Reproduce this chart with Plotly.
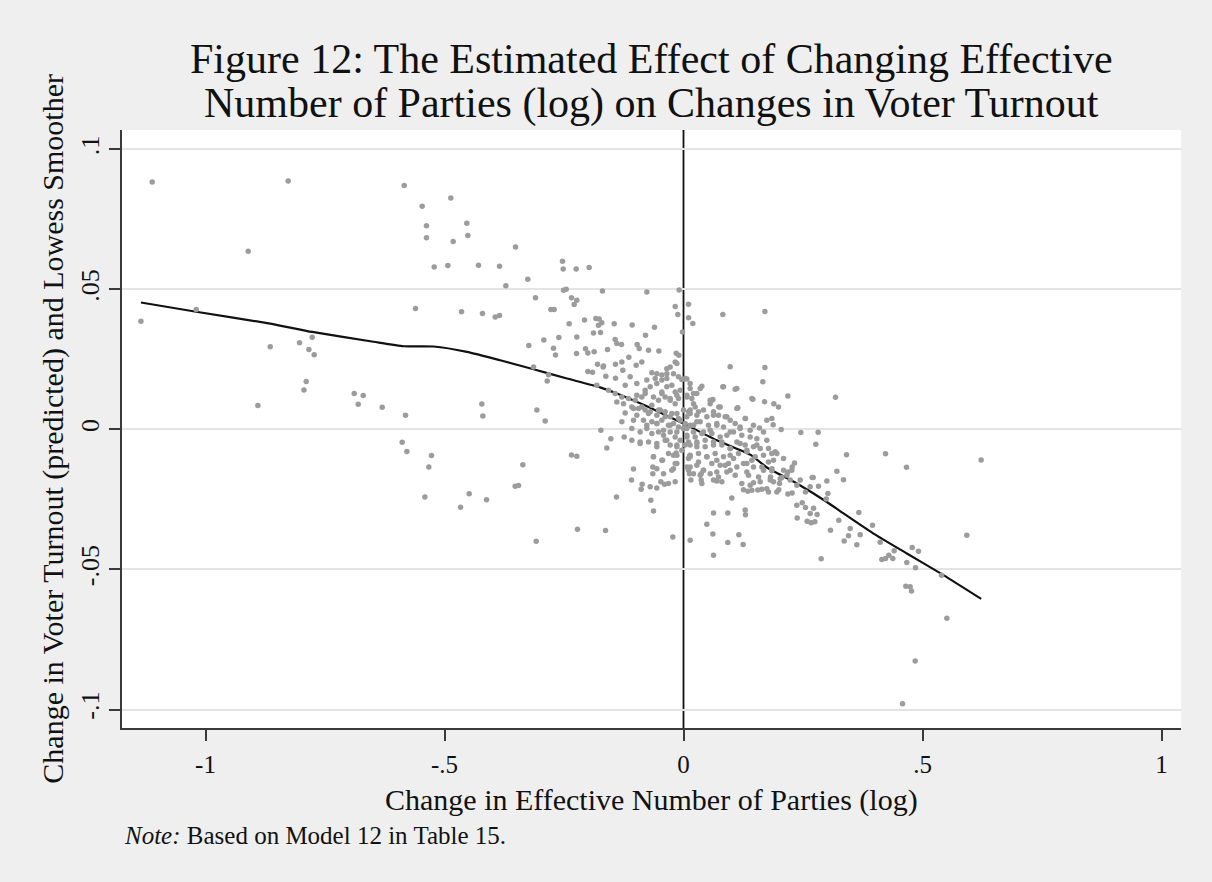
import plotly.graph_objects as go

# Scatter of predicted turnout change vs change in effective number of parties (log),
# grouped by region of the plane.
pts_far_left = [
    (-1.1115, 0.0883), (-0.827, 0.0887), (-0.5843, 0.0871), (-0.9107, 0.0636), (-1.1351, 0.0386),
    (-1.0194, 0.0428), (-0.5607, 0.0432), (-0.8646, 0.0295), (-0.8033, 0.0309), (-0.7768, 0.0329),
    (-0.7837, 0.0285), (-0.7726, 0.0267), (-0.7893, 0.0171), (-0.7941, 0.0141), (-0.8904, 0.0085),
    (-0.6889, 0.0128), (-0.6701, 0.0121), (-0.6805, 0.0090), (-0.6303, 0.0079), (-0.5816, 0.0051),
    (-0.5885, -0.0046), (-0.5787, -0.0079),
]

pts_mid_left = [
    (-0.5467, 0.0797), (-0.4868, 0.0826), (-0.5377, 0.0727), (-0.4533, 0.0736), (-0.5377, 0.0684),
    (-0.4512, 0.0692), (-0.4819, 0.0671), (-0.3515, 0.0651), (-0.5216, 0.0580), (-0.4930, 0.0585),
    (-0.4289, 0.0586), (-0.3849, 0.0583), (-0.2531, 0.0600), (-0.2517, 0.0573), (-0.2245, 0.0573),
    (-0.1974, 0.0578), (-0.3257, 0.0536), (-0.3717, 0.0513), (-0.2510, 0.0497), (-0.2455, 0.0500),
    (-0.1695, 0.0494), (-0.3096, 0.0470), (-0.2343, 0.0470), (-0.2232, 0.0461), (-0.2287, 0.0446),
    (-0.4644, 0.0420), (-0.4205, 0.0414), (-0.3940, 0.0401), (-0.3849, 0.0407), (-0.2775, 0.0428),
    (-0.2706, 0.0428), (-0.2392, 0.0377), (-0.2071, 0.0391), (-0.1834, 0.0396), (-0.1764, 0.0394),
    (-0.1709, 0.0381), (-0.1778, 0.0372), (-0.1736, 0.0346), (-0.1883, 0.0344), (-0.1450, 0.0377),
    (-0.1430, 0.0321), (-0.1395, 0.0307), (-0.2608, 0.0328), (-0.2232, 0.0330), (-0.2922, 0.0319),
    (-0.3236, 0.0300), (-0.2720, 0.0290), (-0.2678, 0.0266), (-0.2238, 0.0271), (-0.2050, 0.0288),
    (-0.2001, 0.0273), (-0.1869, 0.0277), (-0.1590, 0.0285), (-0.1799, 0.0233), (-0.1674, 0.0226),
    (-0.2001, 0.0207), (-0.1904, 0.0204), (-0.1625, 0.0190), (-0.1423, 0.0233), (-0.1423, 0.0183),
    (-0.3138, 0.0223), (-0.2824, 0.0195), (-0.2852, 0.0173), (-0.4219, 0.0091), (-0.4198, 0.0048),
    (-0.3068, 0.0069), (-0.2894, 0.0030), (-0.1729, -0.0003), (-0.1520, -0.0033), (-0.1604, -0.0066),
    (-0.5272, -0.0093), (-0.5328, -0.0134), (-0.3361, -0.0126), (-0.2343, -0.0091), (-0.2232, -0.0096),
    (-0.3522, -0.0203), (-0.3452, -0.0200), (-0.5411, -0.0241), (-0.4484, -0.0230), (-0.4665, -0.0278),
    (-0.4121, -0.0251), (-0.1402, -0.0241), (-0.2218, -0.0356), (-0.1632, -0.0361), (-0.3082, -0.0399),
]

pts_upper_center = [
    (-0.0767, 0.0491), (-0.0091, 0.0498), (-0.0174, 0.0439), (0.0105, 0.0447), (-0.0119, 0.0410),
    (0.0105, 0.0399), (0.0195, 0.0378), (0.0823, 0.0410), (0.1702, 0.0421), (-0.1074, 0.0373),
    (-0.0607, 0.0365), (-0.0021, 0.0348), (-0.0795, 0.0336), (-0.1297, 0.0303), (-0.0969, 0.0303),
    (-0.0927, 0.0289), (-0.0732, 0.0283), (-0.0516, 0.0280), (-0.0153, 0.0272), (-0.0098, 0.0265),
    (-0.1144, 0.0258), (-0.1290, 0.0241), (-0.0872, 0.0241), (-0.0990, 0.0229), (-0.1269, 0.0211),
    (-0.1681, 0.0223), (0.0976, 0.0224), (0.1702, 0.0221), (0.1660, 0.0170), (-0.0349, 0.0217),
    (-0.0279, 0.0223), (-0.0174, 0.0241), (-0.0105, 0.0188), (-0.0035, 0.0178), (0.0070, 0.0180),
    (-0.0662, 0.0202), (-0.0558, 0.0199), (-0.0453, 0.0194), (0.0823, 0.0152), (0.1081, 0.0143),
    (0.1450, 0.0108), (0.1695, 0.0099), (0.1890, 0.0092), (0.1987, 0.0080), (0.1848, 0.0039),
    (0.1876, 0.0017), (0.0614, 0.0107), (0.0739, 0.0080), (0.1137, 0.0077), (0.1297, 0.0039),
    (0.1590, 0.0005),
]

pts_lower_center = [
    (-0.1241, -0.0027), (-0.1081, -0.0039), (-0.1046, -0.0141), (-0.1088, -0.0181), (-0.0865, -0.0196),
    (-0.0886, -0.0214), (-0.0628, -0.0098), (-0.0439, -0.0110), (-0.0139, -0.0122), (-0.0153, -0.0084),
    (-0.0642, -0.0134), (-0.0558, -0.0140), (-0.0642, -0.0158), (-0.0474, -0.0187), (-0.0397, -0.0196),
    (-0.0558, -0.0209), (-0.0683, -0.0253), (-0.0628, -0.0291), (-0.0223, -0.0384), (0.0139, -0.0396),
    (0.0628, -0.0298), (0.0488, -0.0339), (0.0614, -0.0373), (0.0628, -0.0449), (0.0126, -0.0158),
    (0.0153, -0.0181), (0.0370, -0.0158), (0.0370, -0.0181), (0.0697, -0.0184), (0.0126, -0.0096),
]

pts_right_tail = [
    (0.3180, 0.0115), (0.2183, 0.0119), (0.2455, -0.0011), (0.2817, -0.0010), (0.2768, -0.0053),
    (0.3410, -0.0090), (0.4226, -0.0087), (0.4665, -0.0135), (0.6227, -0.0109), (0.3208, -0.0149),
    (0.3347, -0.0180), (0.2999, -0.0184), (0.2692, -0.0172), (0.2824, -0.0203), (0.3020, -0.0229),
    (0.2985, -0.0248), (0.3668, -0.0297), (0.3954, -0.0342), (0.3250, -0.0324), (0.3075, -0.0360),
    (0.3487, -0.0354), (0.3452, -0.0380), (0.3696, -0.0376), (0.3361, -0.0398), (0.3626, -0.0412),
    (0.4114, -0.0403), (0.2880, -0.0462), (0.4784, -0.0422), (0.4916, -0.0435), (0.4149, -0.0464),
    (0.4226, -0.0461), (0.4296, -0.0449), (0.4379, -0.0461), (0.4407, -0.0433), (0.4672, -0.0475),
    (0.4854, -0.0494), (0.5398, -0.0521), (0.5927, -0.0378), (0.4651, -0.0560), (0.4742, -0.0562),
    (0.4770, -0.0577), (0.5509, -0.0674), (0.4847, -0.0827), (0.4582, -0.0979), (0.2371, -0.0271),
    (0.2483, -0.0262), (0.2552, -0.0279), (0.2650, -0.0300), (0.2720, -0.0281), (0.2796, -0.0304),
    (0.2378, -0.0316), (0.2587, -0.0328), (0.2671, -0.0333), (0.2748, -0.0330), (0.0927, -0.0298),
    (0.1290, -0.0288), (0.1297, -0.0305), (0.1158, -0.0376), (0.1248, -0.0411), (0.0927, -0.0404),
    (0.1011, -0.0245), (0.1255, -0.0215), (0.1346, -0.0221), (0.1464, -0.0190), (0.1555, -0.0216),
    (0.1743, -0.0212), (0.1994, -0.0215), (0.2183, -0.0231), (0.2273, -0.0227), (0.2552, -0.0223),
    (0.2650, -0.0205), (0.2713, -0.0172), (0.2322, -0.0120), (0.2273, -0.0134), (0.2183, -0.0152),
    (0.2057, -0.0172), (0.2232, -0.0181), (0.2441, -0.0181), (0.1848, -0.0086), (0.1953, -0.0086),
    (0.1778, -0.0068), (0.1848, -0.0148), (0.1820, -0.0170), (0.1883, -0.0187), (0.1953, -0.0223),
    (0.1743, 0.0033), (0.2043, 0.0000),
]

pts_core_right = [
    (0.0035, 0.0182), (0.0384, 0.0154), (0.0070, 0.0122), (0.0279, 0.0128), (0.0209, 0.0092),
    (0.0593, 0.0104), (0.0558, 0.0092), (0.0000, 0.0069), (0.0139, 0.0057), (0.0314, 0.0063),
    (0.0488, 0.0045), (0.0628, 0.0063), (0.0732, 0.0051), (0.0872, 0.0045), (0.0976, 0.0033),
    (0.0035, 0.0021), (0.0209, 0.0015), (0.0349, 0.0027), (0.0523, 0.0015), (0.0697, 0.0021),
    (0.0837, 0.0009), (0.1081, 0.0021), (0.1185, 0.0009), (0.1395, -0.0003), (0.0070, -0.0021),
    (0.0244, -0.0027), (0.0418, -0.0009), (0.0593, -0.0015), (0.0767, -0.0027), (0.0907, -0.0021),
    (0.1046, -0.0009), (0.1220, -0.0021), (0.1395, -0.0027), (0.1534, -0.0033), (0.0035, -0.0056),
    (0.0279, -0.0050), (0.0453, -0.0062), (0.0628, -0.0045), (0.0802, -0.0056), (0.0976, -0.0068),
    (0.1116, -0.0045), (0.1290, -0.0056), (0.1464, -0.0062), (0.1604, -0.0068), (0.1918, -0.0080),
    (0.0139, -0.0092), (0.0314, -0.0086), (0.0488, -0.0098), (0.0662, -0.0086), (0.0837, -0.0098),
    (0.0976, -0.0092), (0.1151, -0.0086), (0.1325, -0.0080), (0.1499, -0.0098), (0.1674, -0.0092),
    (0.1883, -0.0110), (0.2092, -0.0104), (0.0070, -0.0134), (0.0279, -0.0128), (0.0418, -0.0146),
    (0.0593, -0.0122), (0.0767, -0.0128), (0.0941, -0.0122), (0.1116, -0.0134), (0.1325, -0.0122),
    (0.1464, -0.0134), (0.1674, -0.0146), (0.1848, -0.0140), (0.2092, -0.0146), (0.2266, -0.0146),
    (0.0349, -0.0164), (0.0558, -0.0158), (0.0732, -0.0170), (0.0907, -0.0152), (0.1081, -0.0164),
    (0.1360, -0.0164), (0.1569, -0.0170), (0.2022, -0.0176), (0.2162, -0.0164), (0.0384, -0.0193),
    (0.0628, -0.0181), (0.0802, -0.0187), (0.1220, -0.0193), (0.1395, -0.0199), (0.1604, -0.0187),
    (0.1813, -0.0181), (0.2008, -0.0193), (0.1430, -0.0217), (0.1639, -0.0214), (0.1778, -0.0223),
    (0.2371, -0.0199),
]

pts_core_left = [
    (-0.1220, 0.0158), (-0.1116, 0.0188), (-0.0976, 0.0164), (-0.0349, 0.0199), (-0.0139, 0.0235),
    (-0.1813, 0.0158), (-0.1569, 0.0140), (-0.1430, 0.0128), (-0.1290, 0.0116), (-0.1151, 0.0110),
    (-0.1011, 0.0104), (-0.0872, 0.0116), (-0.0802, 0.0140), (-0.0697, 0.0152), (-0.0558, 0.0164),
    (-0.0453, 0.0176), (-0.0349, 0.0152), (-0.0244, 0.0158), (-0.0174, 0.0134), (-0.0070, 0.0140),
    (0.0139, 0.0146), (-0.1395, 0.0098), (-0.1255, 0.0092), (-0.1081, 0.0080), (-0.0941, 0.0075),
    (-0.0802, 0.0069), (-0.0662, 0.0086), (-0.0523, 0.0104), (-0.0453, 0.0128), (-0.0384, 0.0116),
    (-0.0279, 0.0104), (-0.0174, 0.0092), (-0.0105, 0.0110), (0.0070, 0.0116), (0.0209, 0.0128),
    (-0.1220, 0.0059), (-0.0976, 0.0051), (-0.0732, 0.0057), (-0.0558, 0.0051), (-0.0488, 0.0069),
    (-0.0384, 0.0063), (-0.0279, 0.0045), (-0.0139, 0.0057), (-0.0070, 0.0033), (0.0070, 0.0045),
    (0.0139, 0.0069), (0.0244, 0.0080), (-0.1290, 0.0027), (-0.1046, 0.0033), (-0.0837, 0.0033),
    (-0.0662, 0.0027), (-0.0558, 0.0021), (-0.0453, 0.0033), (-0.0314, 0.0015), (-0.0209, 0.0021),
    (-0.0105, 0.0009), (0.0000, 0.0003), (0.0139, 0.0015), (0.0279, 0.0027), (-0.0907, -0.0009),
    (-0.0767, 0.0003), (-0.0662, -0.0015), (-0.0523, -0.0009), (-0.0418, -0.0021), (-0.0279, -0.0009),
    (-0.0174, -0.0027), (-0.0070, -0.0039), (0.0070, -0.0027), (0.0209, -0.0009), (-0.0907, -0.0050),
    (-0.0732, -0.0045), (-0.0558, -0.0062), (-0.0384, -0.0039), (-0.0279, -0.0056), (-0.0139, -0.0056),
    (-0.0035, -0.0074), (0.0139, -0.0056), (0.0279, -0.0045), (-0.0314, -0.0086), (-0.0139, -0.0092),
    (0.0139, -0.0098), (-0.0174, -0.0122), (-0.0418, -0.0158), (-0.0244, -0.0146), (0.0139, -0.0134),
    (0.0209, -0.0158), (-0.0697, -0.0205), (-0.0314, -0.0193), (-0.0174, -0.0187),
]

pts_core_dense = [
    (-0.0767, 0.0176), (-0.0593, 0.0182), (-0.0349, 0.0182), (-0.0209, 0.0199), (0.0139, 0.0164),
    (0.0349, 0.0146), (0.0837, 0.0152), (0.1116, 0.0146), (-0.0976, 0.0122), (-0.0802, 0.0128),
    (-0.0628, 0.0116), (-0.0453, 0.0134), (-0.0279, 0.0110), (-0.0139, 0.0122), (0.0174, 0.0110),
    (0.0558, 0.0104), (0.0767, 0.0080), (0.1116, 0.0075), (0.1430, 0.0110), (-0.1046, 0.0075),
    (-0.0872, 0.0080), (-0.0697, 0.0063), (-0.0523, 0.0069), (-0.0384, 0.0045), (-0.0244, 0.0057),
    (-0.0105, 0.0039), (0.0105, 0.0063), (0.0279, 0.0051), (0.0418, 0.0069), (0.0628, 0.0051),
    (0.0907, 0.0045), (0.1290, 0.0039), (-0.1081, 0.0003), (-0.0767, 0.0015), (-0.0558, 0.0021),
    (-0.0418, -0.0003), (-0.0279, 0.0015), (-0.0139, -0.0009), (0.0070, 0.0003), (0.0209, 0.0015),
    (0.0384, -0.0015), (0.0558, -0.0003), (0.0697, 0.0015), (0.0976, -0.0009), (0.1185, 0.0003),
    (0.1464, 0.0015), (0.1674, -0.0009), (-0.0907, -0.0045), (-0.0558, -0.0050), (-0.0349, -0.0039),
    (-0.0139, -0.0062), (0.0105, -0.0045), (0.0279, -0.0062), (0.0453, -0.0039), (0.0628, -0.0056),
    (0.0802, -0.0045), (0.0976, -0.0068), (0.1185, -0.0050), (0.1325, -0.0074), (0.1534, -0.0056),
    (0.1743, -0.0039), (-0.0628, -0.0098), (-0.0453, -0.0110), (-0.0209, -0.0092), (0.0105, -0.0104),
    (0.0314, -0.0116), (0.0488, -0.0098), (0.0697, -0.0110), (0.0872, -0.0128), (0.1046, -0.0104),
    (0.1255, -0.0122), (0.1430, -0.0110), (0.1639, -0.0134), (0.1778, -0.0116), (0.0418, -0.0146),
    (0.0697, -0.0152), (0.0976, -0.0146), (0.1325, -0.0152), (-0.0209, -0.0140), (0.0105, -0.0146),
]

# Lowess smoother of the predicted change
lowess_x = [-1.1351, -1.0195, -0.8647, -0.7768, -0.6485, -0.5858, -0.5230, -0.4531, -0.3835,
            -0.3138, -0.2439, -0.1743, -0.1393, -0.0697, 0.0, 0.0699, 0.1395, 0.1745, 0.2372,
            0.3000, 0.3347, 0.3975, 0.4674, 0.5370, 0.6228]
lowess_y = [0.0453, 0.0420, 0.0378, 0.0348, 0.0313, 0.0297, 0.0296, 0.0277, 0.0247,
            0.0215, 0.0182, 0.0150, 0.0128, 0.0077, 0.0021, -0.0039, -0.0090, -0.0136, -0.0193,
            -0.0259, -0.0300, -0.0372, -0.0443, -0.0513, -0.0605]

x_ticks = [-1, -0.5, 0, 0.5, 1]
x_tick_labels = ["-1", "-.5", "0", ".5", "1"]
y_ticks = [-0.1, -0.05, 0, 0.05, 0.1]
y_tick_labels = ["-.1", "-.05", "0", ".05", ".1"]

all_pts = (pts_far_left + pts_mid_left + pts_upper_center + pts_lower_center
           + pts_right_tail + pts_core_right + pts_core_left + pts_core_dense)
scatter_x = [p[0] for p in all_pts]
scatter_y = [p[1] for p in all_pts]

SERIF = "Liberation Serif, Times New Roman, serif"
AXIS_COLOR = "#3a3a3a"
TEXT_COLOR = "#111111"

fig = go.Figure()

fig.add_trace(go.Scatter(
    x=lowess_x, y=lowess_y, mode="lines",
    line=dict(color=TEXT_COLOR, width=2.2, shape="spline", smoothing=0.5),
    hoverinfo="skip", showlegend=False,
))

fig.add_trace(go.Scatter(
    x=scatter_x, y=scatter_y, mode="markers",
    marker=dict(color="#9c9c9c", size=5.5, line=dict(width=0)),
    showlegend=False,
))

# vertical reference line at zero
fig.add_shape(type="line", xref="x", yref="paper", x0=0, x1=0, y0=0, y1=1,
              line=dict(color=TEXT_COLOR, width=1.8), layer="below")

fig.update_layout(
    width=1212, height=882,
    margin=dict(l=122, r=31, t=130, b=154),
    paper_bgcolor="#efefef",
    plot_bgcolor="#ffffff",
    font=dict(family=SERIF, color=TEXT_COLOR),
    showlegend=False,
)

fig.update_xaxes(
    range=[-1.1747, 1.0408],
    tickmode="array", tickvals=x_ticks, ticktext=x_tick_labels,
    ticks="outside", ticklen=11, tickwidth=2, tickcolor=AXIS_COLOR,
    tickfont=dict(size=25, family=SERIF, color=TEXT_COLOR),
    ticklabelstandoff=2,
    showline=True, linecolor=AXIS_COLOR, linewidth=2,
    showgrid=False, zeroline=False,
)

fig.update_yaxes(
    range=[-0.1066, 0.1069],
    tickmode="array", tickvals=y_ticks, ticktext=y_tick_labels,
    ticks="outside", ticklen=11, tickwidth=2, tickcolor=AXIS_COLOR,
    tickangle=-90,
    tickfont=dict(size=26, family=SERIF, color=TEXT_COLOR),
    showline=True, linecolor=AXIS_COLOR, linewidth=2,
    showgrid=True, gridcolor="#e4e4e4", gridwidth=1.6, zeroline=False,
)

annotations = [
    dict(text="Figure 12: The Estimated Effect of Changing Effective",
         x=0.5, y=1.119, xref="paper", yref="paper", xanchor="center", yanchor="middle",
         showarrow=False, font=dict(size=42, family=SERIF, color=TEXT_COLOR)),
    dict(text="Number of Parties (log) on Changes in Voter Turnout",
         x=0.5, y=1.044, xref="paper", yref="paper", xanchor="center", yanchor="middle",
         showarrow=False, font=dict(size=42, family=SERIF, color=TEXT_COLOR)),
    dict(text="Change in Effective Number of Parties (log)",
         x=0.5, y=-0.1204, xref="paper", yref="paper", xanchor="center", yanchor="middle",
         showarrow=False, font=dict(size=30, family=SERIF, color=TEXT_COLOR)),
    dict(text="Change in Voter Turnout (predicted) and Lowess Smoother",
         x=-0.0655, y=0.5, xref="paper", yref="paper", xanchor="center", yanchor="middle",
         textangle=-90, showarrow=False, font=dict(size=30, family=SERIF, color=TEXT_COLOR)),
    dict(text="<i>Note:</i> Based on Model 12 in Table 15.",
         x=0.0, y=-0.1790, xref="paper", yref="paper", xanchor="left", yanchor="middle",
         showarrow=False, font=dict(size=25, family=SERIF, color=TEXT_COLOR)),
]
fig.update_layout(annotations=annotations)

fig.write_html("out.html")
